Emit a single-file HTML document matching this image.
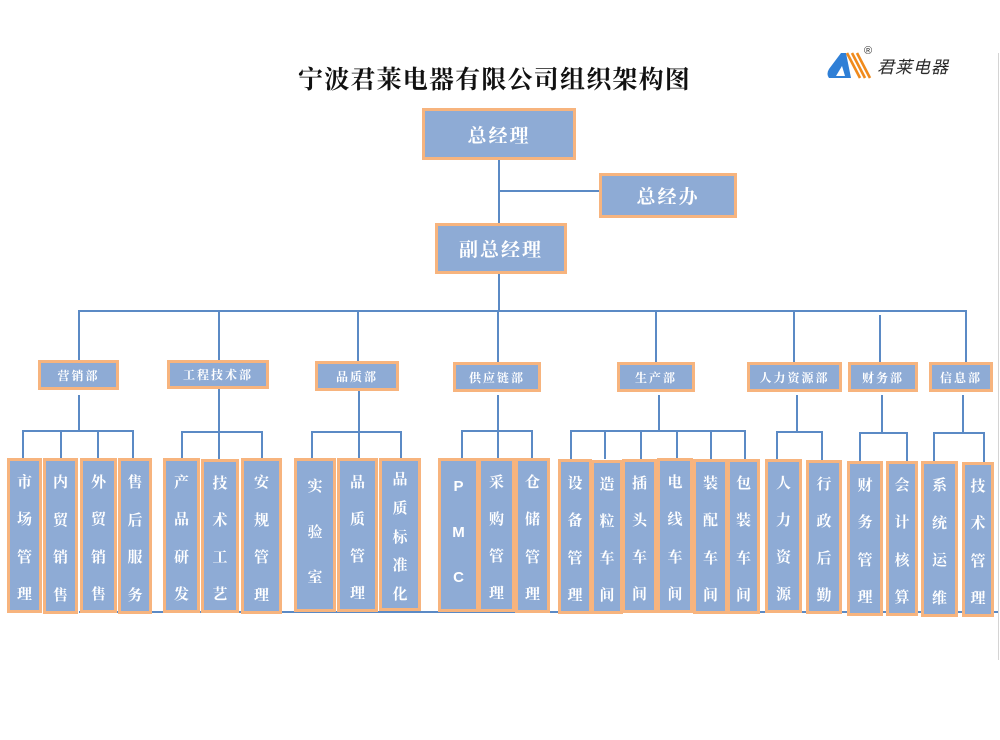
<!DOCTYPE html>
<html><head><meta charset="utf-8">
<style>
html,body{margin:0;padding:0;background:#fff;}
body{width:1000px;height:740px;position:relative;overflow:hidden;font-family:"Liberation Serif","Noto Serif CJK SC",serif;}
.ln{position:absolute;background:#5B8AC5;}
.b{position:absolute;box-sizing:border-box;border:3px solid #F7B47E;background:#8EABD5;color:#fff;display:flex;align-items:center;justify-content:center;font-weight:bold;}
.t{font-size:19px;letter-spacing:2px;}
.d{font-size:12px;letter-spacing:2px;}
.l{position:absolute;box-sizing:border-box;border:3px solid #F7B47E;background:#8EABD5;color:#fff;display:flex;flex-direction:column;justify-content:space-between;align-items:center;font:bold 15px/16px "Liberation Serif","Noto Serif CJK SC",serif;padding:14px 0 7px 0;}
.l span{display:block;height:16px;}
.l3{padding:18px 0 23px 0;}
.l5{padding:11px 0 5px 0;}
</style></head><body>

<div style="position:absolute;left:298px;top:66px;font:bold 25px/30px 'Liberation Serif','Noto Serif CJK SC',serif;letter-spacing:1.2px;color:#111;white-space:nowrap;">宁波君莱电器有限公司组织架构图</div>

<svg style="position:absolute;left:826px;top:48px" width="60" height="34" viewBox="0 0 60 34">
<path d="M3,30 Q0,26 3,21 L15,5 L20,5 L25,30 Z" fill="#2F7FD6"/>
<path d="M10,28 L16,18 L19,28 Z" fill="#fff"/>
<g stroke="#F08A1C" stroke-width="2.6">
<line x1="21" y1="5" x2="34" y2="30"/>
<line x1="26" y1="5" x2="39" y2="30"/>
<line x1="31" y1="5" x2="44" y2="30"/>
</g>
</svg>
<div style="position:absolute;left:864px;top:45px;font:11px/12px 'Liberation Sans',sans-serif;color:#333;">®</div>
<div style="position:absolute;left:877px;top:58px;font:italic 17px/20px 'Liberation Sans','Noto Sans CJK SC',sans-serif;letter-spacing:1px;color:#2a2a2a;white-space:nowrap;">君莱电器</div>

<div style="position:absolute;left:998px;top:53px;width:1px;height:607px;background:#d4d4d4;"></div>

<div class="ln" style="left:498px;top:160px;width:2px;height:64px;"></div>
<div class="ln" style="left:498px;top:190px;width:102px;height:2px;"></div>
<div class="ln" style="left:498px;top:274px;width:2px;height:37px;"></div>
<div class="ln" style="left:78px;top:310px;width:889px;height:2px;"></div>
<div class="ln" style="left:78px;top:310px;width:2px;height:50px;"></div>
<div class="ln" style="left:218px;top:310px;width:2px;height:50px;"></div>
<div class="ln" style="left:357px;top:310px;width:2px;height:51px;"></div>
<div class="ln" style="left:497px;top:310px;width:2px;height:52px;"></div>
<div class="ln" style="left:655px;top:310px;width:2px;height:52px;"></div>
<div class="ln" style="left:793px;top:310px;width:2px;height:52px;"></div>
<div class="ln" style="left:879px;top:315px;width:2px;height:47px;"></div>
<div class="ln" style="left:965px;top:310px;width:2px;height:52px;"></div>

<div class="ln" style="left:79px;top:611px;width:919px;height:2px;"></div>

<div class="ln" style="left:78px;top:395px;width:2px;height:37px;"></div>
<div class="ln" style="left:22px;top:430px;width:112px;height:2px;"></div>
<div class="ln" style="left:22px;top:430px;width:2px;height:29px;"></div>
<div class="ln" style="left:60px;top:430px;width:2px;height:29px;"></div>
<div class="ln" style="left:97px;top:430px;width:2px;height:29px;"></div>
<div class="ln" style="left:132px;top:430px;width:2px;height:29px;"></div>

<div class="ln" style="left:218px;top:389px;width:2px;height:44px;"></div>
<div class="ln" style="left:181px;top:431px;width:82px;height:2px;"></div>
<div class="ln" style="left:181px;top:431px;width:2px;height:28px;"></div>
<div class="ln" style="left:218px;top:431px;width:2px;height:28px;"></div>
<div class="ln" style="left:261px;top:431px;width:2px;height:28px;"></div>

<div class="ln" style="left:358px;top:391px;width:2px;height:42px;"></div>
<div class="ln" style="left:311px;top:431px;width:91px;height:2px;"></div>
<div class="ln" style="left:311px;top:431px;width:2px;height:28px;"></div>
<div class="ln" style="left:358px;top:431px;width:2px;height:28px;"></div>
<div class="ln" style="left:400px;top:431px;width:2px;height:28px;"></div>

<div class="ln" style="left:497px;top:395px;width:2px;height:37px;"></div>
<div class="ln" style="left:461px;top:430px;width:72px;height:2px;"></div>
<div class="ln" style="left:461px;top:430px;width:2px;height:29px;"></div>
<div class="ln" style="left:497px;top:430px;width:2px;height:29px;"></div>
<div class="ln" style="left:531px;top:430px;width:2px;height:29px;"></div>

<div class="ln" style="left:658px;top:395px;width:2px;height:37px;"></div>
<div class="ln" style="left:570px;top:430px;width:176px;height:2px;"></div>
<div class="ln" style="left:570px;top:430px;width:2px;height:29px;"></div>
<div class="ln" style="left:604px;top:430px;width:2px;height:29px;"></div>
<div class="ln" style="left:640px;top:430px;width:2px;height:29px;"></div>
<div class="ln" style="left:676px;top:430px;width:2px;height:29px;"></div>
<div class="ln" style="left:710px;top:430px;width:2px;height:29px;"></div>
<div class="ln" style="left:744px;top:430px;width:2px;height:29px;"></div>

<div class="ln" style="left:796px;top:395px;width:2px;height:38px;"></div>
<div class="ln" style="left:776px;top:431px;width:47px;height:2px;"></div>
<div class="ln" style="left:776px;top:431px;width:2px;height:29px;"></div>
<div class="ln" style="left:821px;top:431px;width:2px;height:29px;"></div>

<div class="ln" style="left:881px;top:395px;width:2px;height:39px;"></div>
<div class="ln" style="left:859px;top:432px;width:49px;height:2px;"></div>
<div class="ln" style="left:859px;top:432px;width:2px;height:30px;"></div>
<div class="ln" style="left:906px;top:432px;width:2px;height:30px;"></div>

<div class="ln" style="left:962px;top:395px;width:2px;height:39px;"></div>
<div class="ln" style="left:933px;top:432px;width:52px;height:2px;"></div>
<div class="ln" style="left:933px;top:432px;width:2px;height:30px;"></div>
<div class="ln" style="left:983px;top:432px;width:2px;height:30px;"></div>

<div class="b t" style="left:422px;top:108px;width:154px;height:52px;">总经理</div>
<div class="b t" style="left:599px;top:173px;width:138px;height:45px;">总经办</div>
<div class="b t" style="left:435px;top:223px;width:132px;height:51px;">副总经理</div>

<div class="b d" style="left:38px;top:360px;width:81px;height:30px;">营销部</div>
<div class="b d" style="left:167px;top:360px;width:102px;height:29px;">工程技术部</div>
<div class="b d" style="left:315px;top:361px;width:84px;height:30px;">品质部</div>
<div class="b d" style="left:453px;top:362px;width:88px;height:30px;">供应链部</div>
<div class="b d" style="left:617px;top:362px;width:78px;height:30px;">生产部</div>
<div class="b d" style="left:747px;top:362px;width:95px;height:30px;">人力资源部</div>
<div class="b d" style="left:848px;top:362px;width:70px;height:30px;">财务部</div>
<div class="b d" style="left:929px;top:362px;width:64px;height:30px;">信息部</div>

<div class="l" style="left:7px;top:458px;width:35px;height:155px;"><span>市</span><span>场</span><span>管</span><span>理</span></div>
<div class="l" style="left:43px;top:458px;width:35px;height:156px;"><span>内</span><span>贸</span><span>销</span><span>售</span></div>
<div class="l" style="left:80px;top:458px;width:37px;height:155px;"><span>外</span><span>贸</span><span>销</span><span>售</span></div>
<div class="l" style="left:118px;top:458px;width:34px;height:156px;"><span>售</span><span>后</span><span>服</span><span>务</span></div>
<div class="l" style="left:163px;top:458px;width:37px;height:155px;"><span>产</span><span>品</span><span>研</span><span>发</span></div>
<div class="l" style="left:201px;top:459px;width:38px;height:154px;"><span>技</span><span>术</span><span>工</span><span>艺</span></div>
<div class="l" style="left:241px;top:458px;width:41px;height:156px;"><span>安</span><span>规</span><span>管</span><span>理</span></div>
<div class="l l3" style="left:294px;top:458px;width:42px;height:154px;"><span>实</span><span>验</span><span>室</span></div>
<div class="l" style="left:337px;top:458px;width:41px;height:154px;"><span>品</span><span>质</span><span>管</span><span>理</span></div>
<div class="l l5" style="left:379px;top:458px;width:42px;height:153px;"><span>品</span><span>质</span><span>标</span><span>准</span><span>化</span></div>
<div class="l l3" style="left:438px;top:458px;width:41px;height:154px;font-family:'Liberation Sans',sans-serif;"><span>P</span><span>M</span><span>C</span></div>
<div class="l" style="left:478px;top:458px;width:37px;height:154px;"><span>采</span><span>购</span><span>管</span><span>理</span></div>
<div class="l" style="left:515px;top:458px;width:35px;height:155px;"><span>仓</span><span>储</span><span>管</span><span>理</span></div>
<div class="l" style="left:558px;top:459px;width:34px;height:155px;"><span>设</span><span>备</span><span>管</span><span>理</span></div>
<div class="l" style="left:591px;top:460px;width:32px;height:154px;"><span>造</span><span>粒</span><span>车</span><span>间</span></div>
<div class="l" style="left:622px;top:459px;width:35px;height:154px;"><span>插</span><span>头</span><span>车</span><span>间</span></div>
<div class="l" style="left:657px;top:458px;width:36px;height:155px;"><span>电</span><span>线</span><span>车</span><span>间</span></div>
<div class="l" style="left:693px;top:459px;width:35px;height:155px;"><span>装</span><span>配</span><span>车</span><span>间</span></div>
<div class="l" style="left:727px;top:459px;width:33px;height:155px;"><span>包</span><span>装</span><span>车</span><span>间</span></div>
<div class="l" style="left:765px;top:459px;width:37px;height:154px;"><span>人</span><span>力</span><span>资</span><span>源</span></div>
<div class="l" style="left:806px;top:460px;width:36px;height:154px;"><span>行</span><span>政</span><span>后</span><span>勤</span></div>
<div class="l" style="left:847px;top:461px;width:36px;height:155px;"><span>财</span><span>务</span><span>管</span><span>理</span></div>
<div class="l" style="left:886px;top:461px;width:32px;height:155px;"><span>会</span><span>计</span><span>核</span><span>算</span></div>
<div class="l" style="left:921px;top:461px;width:37px;height:156px;"><span>系</span><span>统</span><span>运</span><span>维</span></div>
<div class="l" style="left:962px;top:462px;width:32px;height:155px;"><span>技</span><span>术</span><span>管</span><span>理</span></div>

</body></html>
